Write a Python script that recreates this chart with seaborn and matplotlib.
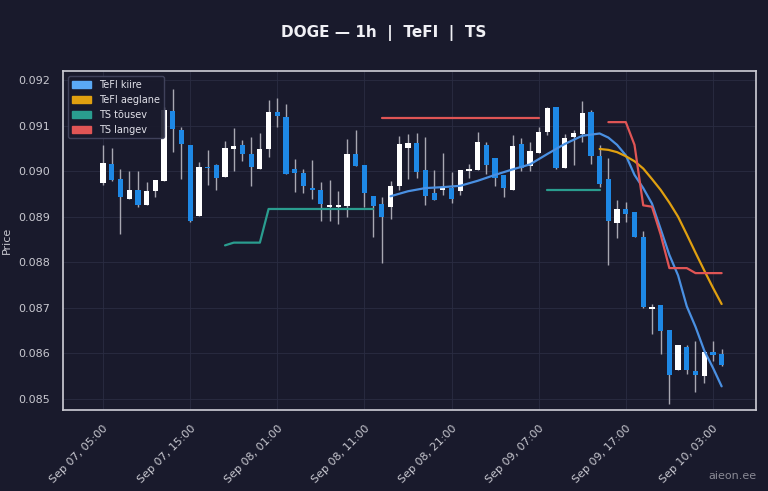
import numpy as np
import pandas as pd
import matplotlib
matplotlib.use("Agg")
import matplotlib.pyplot as plt
import matplotlib.dates as mdates
import seaborn as sns

# hourly candles, prices in units of 1e-5
start = "2025-09-07 05:00"
opens = [8974, 9016, 8982, 8940, 8958, 8925, 8956, 8978, 9132, 9091,
         9058, 8901, 9010, 9013, 8987, 9048, 9058, 9038, 9004, 9048,
         9131, 9119, 9004, 8997, 8963, 8959, 8922, 8922, 8923, 9038,
         9013, 8946, 8929, 8922, 8967, 9052, 9062, 9003, 8952, 8959,
         8963, 8956, 9001, 9002, 9057, 9029, 8992, 8959, 9059, 9012,
         9040, 9086, 9141, 9008, 9076, 9081, 9131, 9033, 8982, 8886,
         8916, 8910, 8855, 8697, 8705, 8651, 8563, 8613, 8561, 8549,
         8602, 8598]
highs = [9058, 9051, 9004, 9001, 9001, 8977, 8980, 9141, 9180, 9098,
         9058, 9021, 9047, 9015, 9066, 9095, 9068, 9075, 9083, 9156,
         9162, 9147, 9026, 9004, 9024, 8977, 8980, 8957, 9071, 9091,
         9013, 8946, 8944, 8978, 9078, 9081, 9083, 9076, 9003, 9040,
         8998, 9003, 9016, 9087, 9065, 9029, 8992, 9080, 9072, 9065,
         9098, 9141, 9141, 9081, 9091, 9155, 9134, 9058, 9029, 8937,
         8933, 8910, 8869, 8707, 8705, 8651, 8619, 8617, 8627, 8602,
         8627, 8609]
lows = [8970, 8979, 8861, 8940, 8922, 8925, 8943, 8978, 9042, 8982,
        8888, 8901, 8970, 8959, 8987, 9001, 9023, 8967, 9004, 9031,
        9098, 8995, 8954, 8952, 8940, 8891, 8891, 8884, 8900, 9012,
        8922, 8855, 8798, 8895, 8959, 8982, 8986, 8925, 8937, 8948,
        8931, 8948, 8986, 9002, 8993, 8967, 8944, 8959, 9001, 9001,
        9040, 9080, 9004, 9008, 9013, 9065, 9017, 8965, 8794, 8854,
        8888, 8855, 8700, 8643, 8598, 8489, 8563, 8555, 8515, 8534,
        8583, 8572]
closes = [9018, 8980, 8943, 8958, 8925, 8957, 8980, 9134, 9093, 9059,
          8891, 9010, 9007, 8986, 9052, 9056, 9038, 9010, 9048, 9130,
          9121, 8995, 8997, 8967, 8959, 8928, 8925, 8925, 9038, 9012,
          8952, 8924, 8899, 8968, 9059, 9062, 8999, 8946, 8937, 8965,
          8940, 9003, 9004, 9065, 9013, 8986, 8963, 9056, 9008, 9044,
          9087, 9140, 9008, 9074, 9085, 9128, 9033, 8973, 8891, 8916,
          8907, 8855, 8702, 8701, 8649, 8553, 8619, 8564, 8552, 8602,
          8597, 8575]

# indicators: (candle index, value)
fast_idx = [33, 35, 37, 39, 41, 43, 45, 47, 49, 51, 53, 55, 57, 58, 59, 60,
            61, 62, 63, 64, 65, 66, 67, 68, 69, 70, 71]
fast_val = [8945, 8956, 8963, 8965, 8968, 8979, 8992, 9004, 9015, 9038, 9060,
            9078, 9083, 9074, 9058, 9035, 8992, 8963, 8929, 8873, 8816, 8771,
            8703, 8658, 8606, 8568, 8527]
slow_idx = list(range(57, 72))
slow_val = [9049, 9047, 9042, 9033, 9022, 9006, 8983, 8959, 8931, 8900,
            8861, 8821, 8782, 8744, 8708]
up_idx = [14, 15, 16, 17, 18, 19, 20, 21, 22, 23, 24, 25, 26, 27, 28, 29,
          30, 31, None, 51, 52, 53, 54, 55, 56, 57]
up_val = [8837, 8843, 8843, 8843, 8843, 8917, 8917, 8917, 8917, 8917, 8917,
          8917, 8917, 8917, 8917, 8917, 8917, 8917, None, 8959, 8959, 8959,
          8959, 8959, 8959, 8959]
dn_idx = [32, 50, None, 58, 59, 60, 61, 62, 63, 64, 65, 66, 67, 68, 69, 70, 71]
dn_val = [9116, 9116, None, 9108, 9108, 9108, 9058, 8925, 8922, 8861, 8787,
          8787, 8787, 8776, 8776, 8776, 8776]

bg = "#191a2c"
sns.set_theme(style="dark", rc={"axes.facecolor": bg, "figure.facecolor": bg,
                                "grid.color": "#2a2c42", "axes.edgecolor": "#c8c8d0",
                                "text.color": "#e8e8f0", "axes.labelcolor": "#c8c8d0",
                                "xtick.color": "#c8c8d0", "ytick.color": "#c8c8d0"})
plt.rcParams['font.family'] = ['DejaVu Sans']

times = pd.date_range(start, periods=len(opens), freq="h")
df = pd.DataFrame({"t": times, "o": np.array(opens) / 1e5, "h": np.array(highs) / 1e5,
                   "l": np.array(lows) / 1e5, "c": np.array(closes) / 1e5})


def series(idx, val):
    t = [times[i] if i is not None else pd.NaT for i in idx]
    v = [x / 1e5 if x is not None else np.nan for x in val]
    return pd.DataFrame({"t": t, "v": v})


fig = plt.figure(figsize=(7.68, 4.91), dpi=100)
ax = fig.add_axes([0.082, 0.165, 0.903, 0.69])
ax.grid(True, linewidth=0.6)

up = df["c"] >= df["o"]
width = 0.6 / 24
ax.vlines(df["t"], df["l"], df["h"], color="#a8a8b2", linewidth=1, zorder=2)
body = (df["c"] - df["o"]).abs().clip(lower=0.000012)
ax.bar(df["t"], body, bottom=np.minimum(df["o"], df["c"]),
       width=width, color=np.where(up, "#ffffff", "#1e88e5"), linewidth=0, zorder=3)

lines = [(fast_idx, fast_val, "#4a90e2", "TeFI kiire"),
         (slow_idx, slow_val, "#e0a010", "TeFI aeglane"),
         (up_idx, up_val, "#2a9d8f", "TS tõusev"),
         (dn_idx, dn_val, "#e05555", "TS langev")]
handles = []
for idx, val, col, name in lines:
    s = series(idx, val)
    for part in np.split(s, np.where(s["t"].isna())[0]):
        part = part.dropna()
        sns.lineplot(data=part, x="t", y="v", ax=ax, color=col, linewidth=1.6, zorder=4)
    handles.append(plt.Rectangle((0, 0), 1, 1, color=col if col != "#4a90e2" else "#5aa9f5"))
ax.legend(handles, [l[3] for l in lines], loc="upper left", fontsize=7,
          facecolor=bg, edgecolor="#444660", labelcolor="#e0e0e8", framealpha=0.9)

ax.set_ylim(0.08475, 0.0922)
ax.set_xlim(times[0] - pd.Timedelta(hours=4.6), times[-1] + pd.Timedelta(hours=4))
ticks = pd.date_range(start, times[-1], freq="10h")
ax.set_xticks(ticks)
ax.xaxis.set_major_formatter(mdates.DateFormatter("%b %d, %H:%M"))
plt.setp(ax.get_xticklabels(), rotation=45, ha="right", rotation_mode="anchor", fontsize=8)
ax.tick_params(axis="y", labelsize=8)
ax.yaxis.set_major_formatter(matplotlib.ticker.FormatStrFormatter("%.3f"))
ax.set_xlabel("")
ax.set_ylabel("Price", fontsize=8)
for sp in ax.spines.values():
    sp.set_color("#c8c8d0")

fig.suptitle("DOGE — 1h  |  TeFI  |  TS", fontsize=11, fontweight="bold", color="#f0f0f5", y=0.95)
fig.text(0.985, 0.02, "aieon.ee", ha="right", va="bottom", fontsize=8, color="#8a8a95")
fig.savefig("out.png", dpi=100)
